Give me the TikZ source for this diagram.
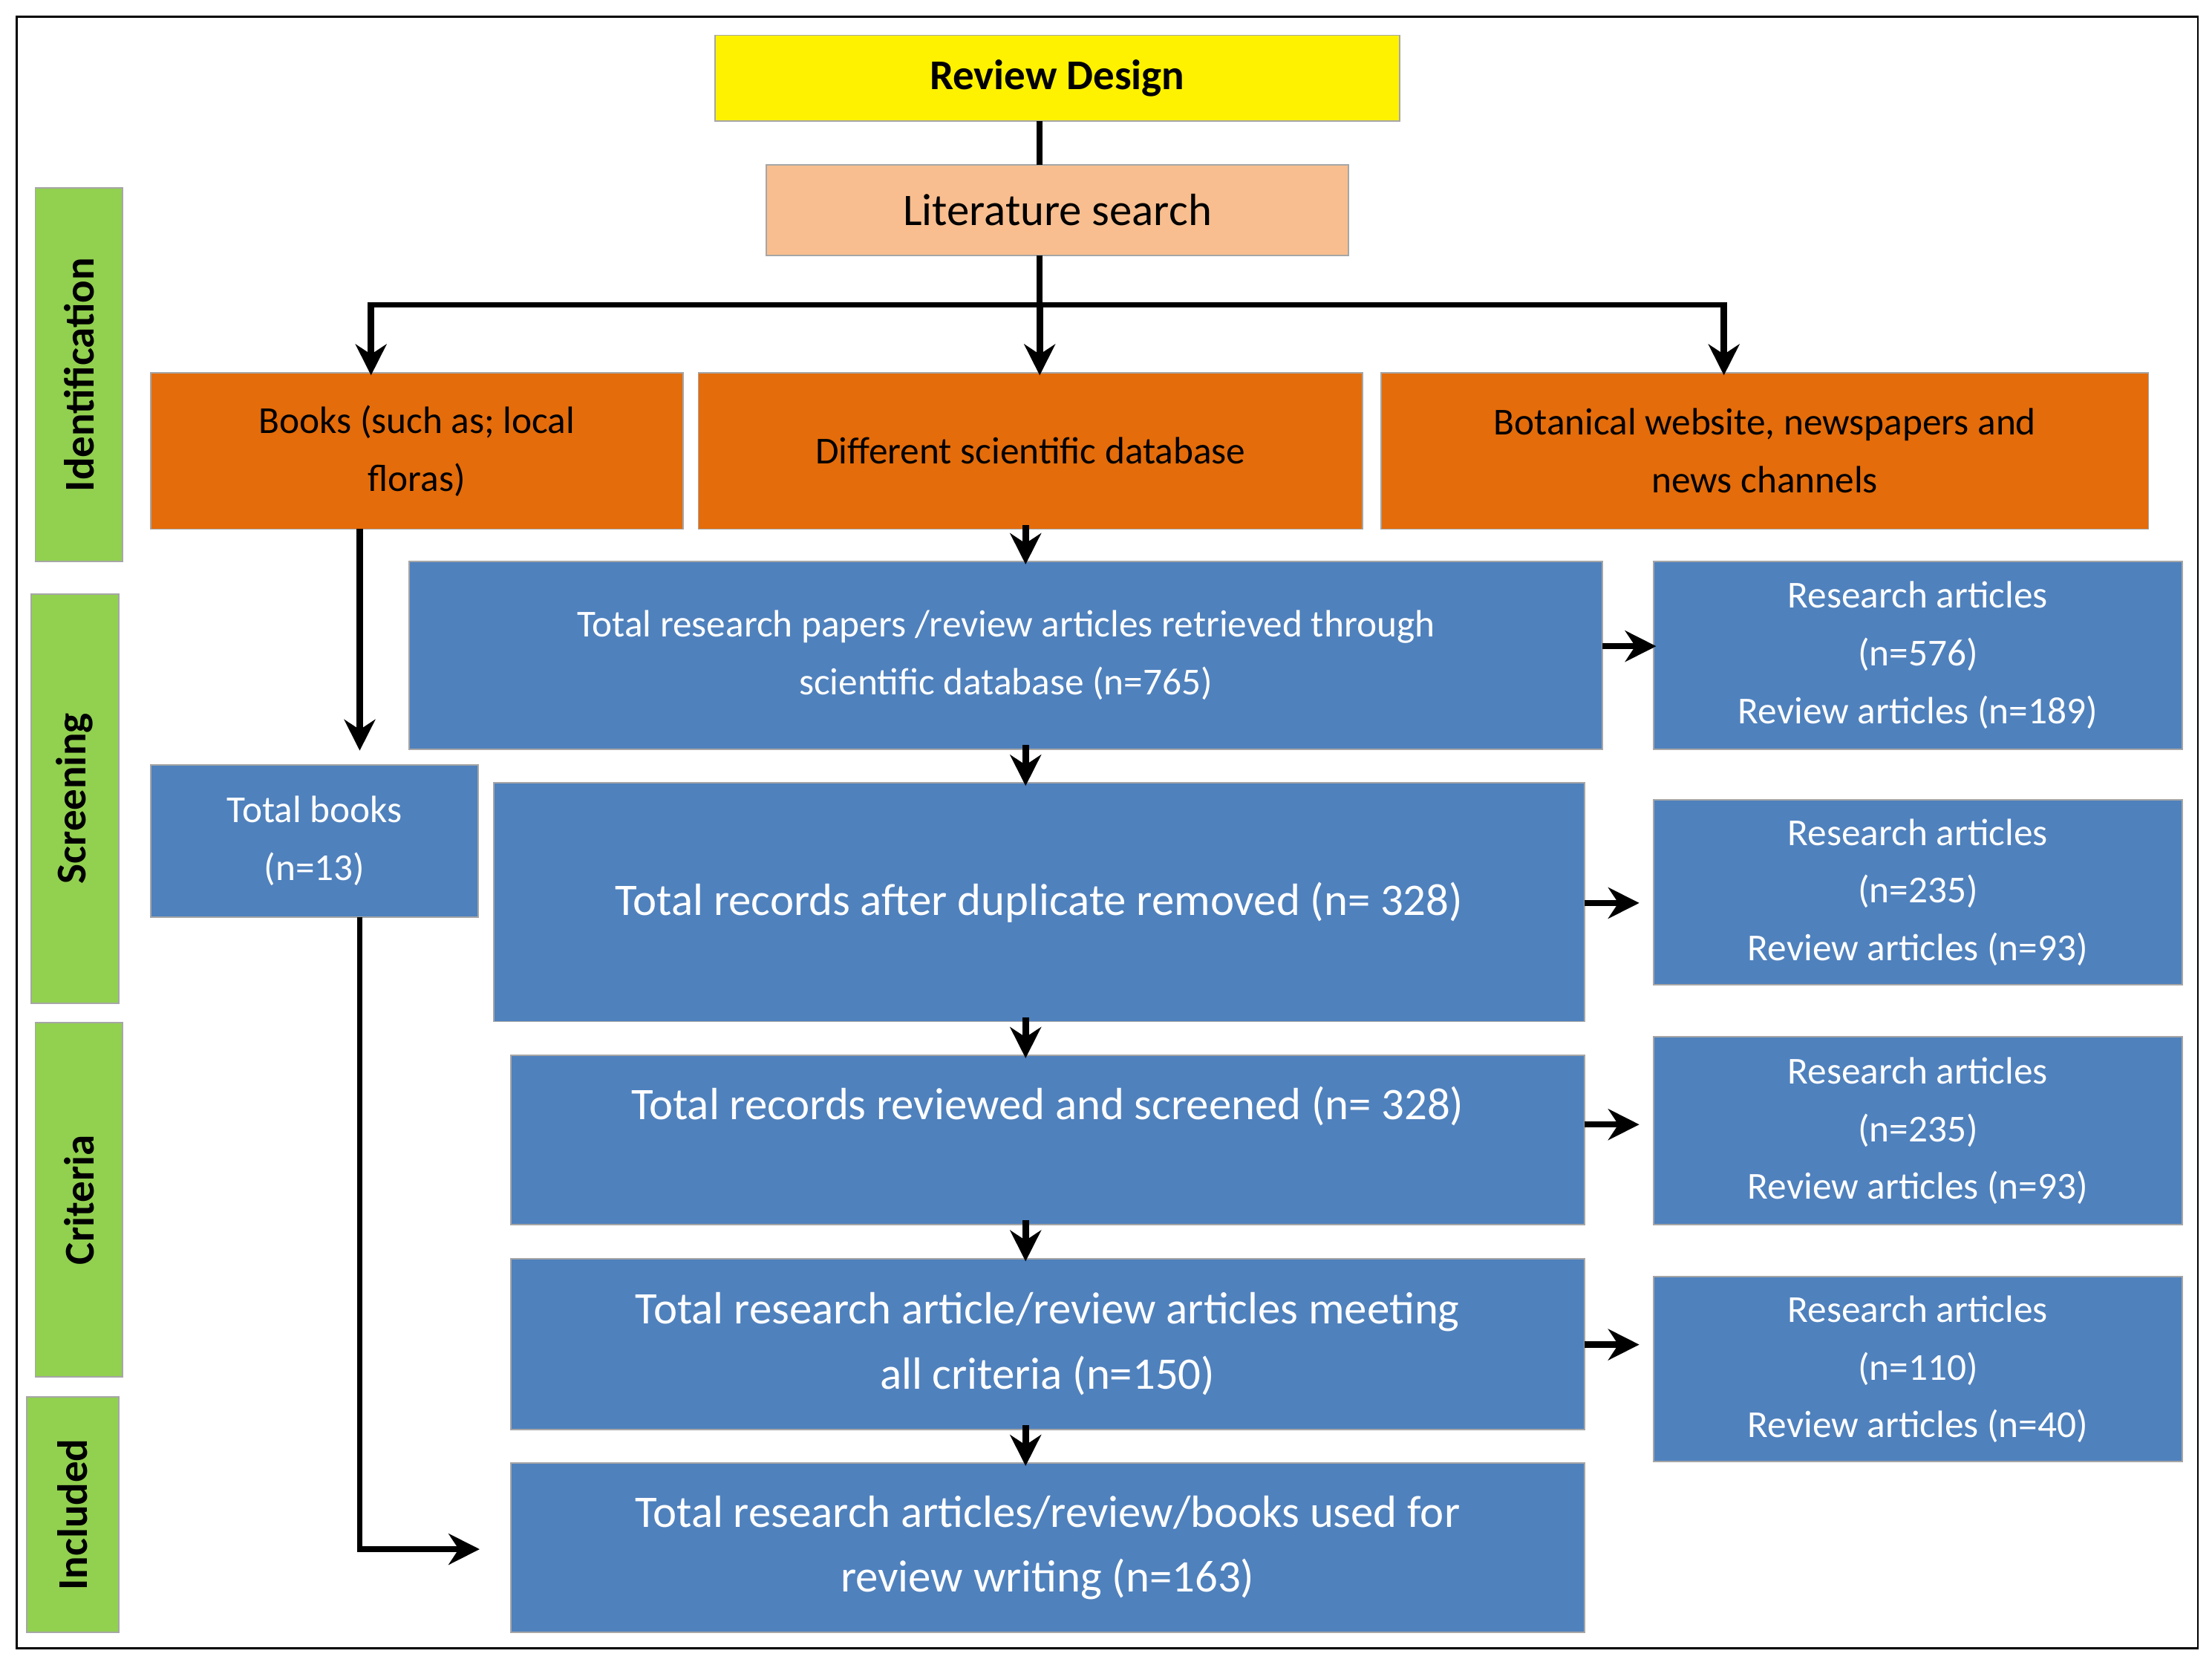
\documentclass[tikz,border=0pt]{standalone}
\usepackage{fontspec}
\setmainfont{Carlito}
\usetikzlibrary{arrows.meta}
\definecolor{blu}{HTML}{4F81BD}
\definecolor{org}{HTML}{E46C0A}
\definecolor{pch}{HTML}{F8BE8F}
\definecolor{grn}{HTML}{92D050}
\begin{document}
\begin{tikzpicture}[x=1pt,y=-1pt,
 bx/.style={draw=gray!70,line width=1pt,inner sep=0pt,align=center,text=black},
 bl/.style={bx,fill=blu,text=white},
 side/.style={bx,fill=grn,font=\fontsize{30}{34}\selectfont\bfseries},
 ar/.style={line width=4.5pt,-{Stealth[length=22pt,width=22pt]}},
 ln/.style={line width=4pt}]
\useasboundingbox (0,0) rectangle (1568,1180);
\draw[line width=1.5pt] (12,12) rectangle (1558,1168);
\newcommand\bxat[6]{\node[#1,minimum width={#4-#2},minimum height={#5-#3}] (#6) at ({(#2+#4)/2},{(#3+#5)/2}) {};}
% side labels
\bxat{side}{25}{133}{87}{398}{sid}
\bxat{side}{22}{421}{84}{711}{ssc}
\bxat{side}{25}{725}{87}{976}{scr}
\bxat{side}{19}{990}{84}{1157}{sin}
\node[rotate=90,font=\fontsize{30}{34}\selectfont\bfseries] at (sid) {Identification};
\node[rotate=90,font=\fontsize{30}{34}\selectfont\bfseries] at (ssc) {Screening};
\node[rotate=90,font=\fontsize{30}{34}\selectfont\bfseries] at (scr) {Criteria};
\node[rotate=90,font=\fontsize{30}{34}\selectfont\bfseries] at (sin) {Included};
% top
\node[bx,fill=yellow,minimum width=485,minimum height=61,font=\fontsize{30}{34}\selectfont\bfseries] (rd) at (749.5,55.5) {Review Design};
\node[bx,fill=pch,minimum width=413,minimum height=64,font=\fontsize{32}{36}\selectfont] (ls) at (749.5,149) {Literature search};
\draw[ln] (737,86) -- (737,117);
\node[bx,fill=org,minimum width=377,minimum height=111,font=\fontsize{27}{41}\selectfont] (bk) at (295.5,319.5) {Books (such as; local\\floras)};
\node[bx,fill=org,minimum width=471,minimum height=111,font=\fontsize{27}{41}\selectfont] (db) at (730.5,319.5) {Different scientific database};
\node[bx,fill=org,minimum width=544,minimum height=111,font=\fontsize{27}{41}\selectfont] (bw) at (1251,319.5) {Botanical website, newspapers and\\news channels};
\coordinate (j) at (737,216);
\draw[ln] (737,181) -- (j);
\draw[ln] (263,216) -- (1222,216);
\draw[ar] (263,214) -- (263,266);
\draw[ar] (737,214) -- (737,266);
\draw[ar] (1222,214) -- (1222,266);
% blue
\node[bl,minimum width=846,minimum height=133,font=\fontsize{27}{41}\selectfont] (tp) at (713,464.5) {Total research papers /review articles retrieved through\\scientific database (n=765)};
\node[bl,minimum width=375,minimum height=133,font=\fontsize{27}{41}\selectfont] (r1) at (1359.5,464.5) {Research articles\\(n=576)\\Review articles (n=189)};
\node[bl,minimum width=232,minimum height=108,font=\fontsize{27}{41}\selectfont] (tb) at (223,596) {Total books\\(n=13)};
\node[bl,minimum width=773,minimum height=169,font=\fontsize{32}{46}\selectfont] (dr) at (736.5,639.5) {Total records after duplicate removed (n= 328)};
\node[bl,minimum width=375,minimum height=131,font=\fontsize{27}{41}\selectfont] (r2) at (1359.5,632.5) {Research articles\\(n=235)\\Review articles (n=93)};
\node[bl,minimum width=761,minimum height=120,font=\fontsize{32}{46}\selectfont] (rs) at (742.5,808) {};
\node[font=\fontsize{32}{46}\selectfont,text=white] at (742.5,784) {Total records reviewed and screened (n= 328)};
\node[bl,minimum width=375,minimum height=133,font=\fontsize{27}{41}\selectfont] (r3) at (1359.5,801.5) {Research articles\\(n=235)\\Review articles (n=93)};
\node[bl,minimum width=761,minimum height=121,font=\fontsize{32}{46}\selectfont] (mc) at (742.5,952.5) {Total research article/review articles meeting\\all criteria (n=150)};
\node[bl,minimum width=375,minimum height=131,font=\fontsize{27}{41}\selectfont] (r4) at (1359.5,970.5) {Research articles\\(n=110)\\Review articles (n=40)};
\node[bl,minimum width=761,minimum height=120,font=\fontsize{32}{46}\selectfont] (fn) at (742.5,1097) {Total research articles/review/books used for\\review writing (n=163)};
% arrows
\draw[ar] (255,375) -- (255,532);
\draw[ln] (255,650) -- (255,1098);
\draw[ar] (253,1098) -- (340,1098);
\draw[ar] (727,372) -- (727,400);
\draw[ar] (727,528) -- (727,557);
\draw[ar] (727,721) -- (727,750);
\draw[ar] (727,865) -- (727,894);
\draw[ar] (727,1010) -- (727,1039);
\draw[ar] (1136,458) -- (1174,458);
\draw[ar] (1123,640) -- (1162,640);
\draw[ar] (1123,797) -- (1162,797);
\draw[ar] (1123,953) -- (1162,953);
\end{tikzpicture}
\end{document}
